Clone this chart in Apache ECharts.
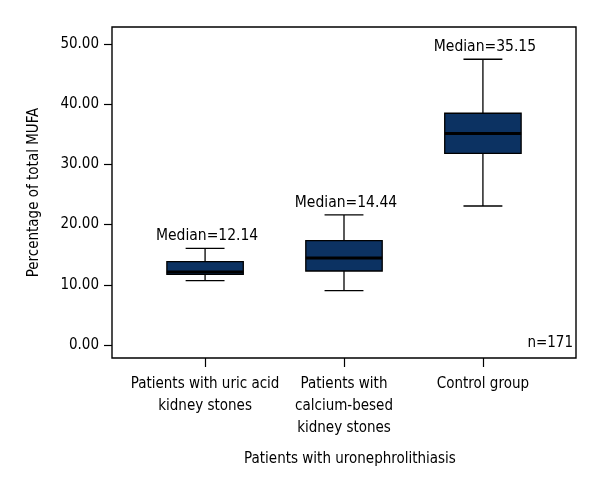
<!DOCTYPE html>
<html>
<head>
<meta charset="utf-8">
<script src="https://cdn.jsdelivr.net/npm/echarts@6/dist/echarts.min.js"></script>
<style>
html,body{margin:0;padding:0;background:#fff;}
#chart{width:600px;height:500px;}
</style>
</head>
<body>
<div id="chart"></div>
<script>
// ---- data ----
const categories = ['Patients with uric acid\nkidney stones', 'Patients with\ncalcium-besed\nkidney stones', 'Control group'];
const categoryPositions = [0, 1, 2];
const whiskerLow = [10.68, 9.02, 23.09];
const q1Values = [11.74, 12.29, 31.84];
const medians = [12.14, 14.44, 35.15];
const q3Values = [13.84, 17.33, 38.49];
const whiskerHigh = [16.06, 21.6, 47.46];
const yTicks = [0, 10, 20, 30, 40, 50];
const yAxisTitle = 'Percentage of total MUFA';
const xAxisTitle = 'Patients with uronephrolithiasis';
const sampleNote = 'n=171';

const FONT = "'Liberation Sans Narrow', 'DejaVu Sans Condensed', 'Arial Narrow', sans-serif";
const boxData = categories.map((c, i) => [categoryPositions[i], whiskerLow[i], q1Values[i], medians[i], q3Values[i], whiskerHigh[i]]);

const chart = echarts.init(document.getElementById('chart'), null, {renderer: 'canvas'});
chart.setOption({
  animation: false,
  backgroundColor: '#fff',
  textStyle: {fontFamily: FONT},
  grid: {left: 112, right: 24, top: 27, bottom: 142, show: true, borderColor: '#000', borderWidth: 1.4, backgroundColor: 'transparent'},
  xAxis: {
    type: 'value', min: -0.67, max: 2.67,
    axisLine: {show: false, onZero: false},
    axisTick: {show: true, customValues: categoryPositions, length: 9, lineStyle: {color: '#000', width: 1.2}},
    splitLine: {show: false},
    axisLabel: {
      customValues: categoryPositions, color: '#000', fontSize: 15, fontFamily: FONT, margin: 15, lineHeight: 22,
      formatter: v => categories[Math.round(v)]
    },
    name: xAxisTitle, nameLocation: 'middle', nameGap: 94,
    nameTextStyle: {color: '#000', fontSize: 15, fontFamily: FONT, padding: [0, 0, 0, 12]}
  },
  yAxis: {
    type: 'value', min: -2.16, max: 52.82,
    axisLine: {show: false, onZero: false},
    axisTick: {show: true, customValues: yTicks, length: 8, lineStyle: {color: '#000', width: 1.2}},
    splitLine: {show: false},
    axisLabel: {customValues: yTicks, color: '#000', fontSize: 15, fontFamily: FONT, margin: 13, formatter: v => v.toFixed(2)},
    name: yAxisTitle, nameLocation: 'middle', nameRotate: 90, nameGap: 70,
    nameTextStyle: {color: '#000', fontSize: 15, fontFamily: FONT}
  },
  graphic: [
    {type: 'text', right: 27, top: 336, style: {text: sampleNote, fill: '#000', font: '15px ' + FONT}}
  ],
  series: [{
    type: 'custom',
    encode: {x: 0, y: [1, 2, 3, 4, 5]},
    data: boxData,
    renderItem: function (params, api) {
      const x = api.value(0);
      const lo = api.coord([x, api.value(1)]);
      const q1 = api.coord([x, api.value(2)]);
      const md = api.coord([x, api.value(3)]);
      const q3 = api.coord([x, api.value(4)]);
      const hi = api.coord([x, api.value(5)]);
      const band = api.size([1, 0])[0];
      const bw = band * 0.55, cw = band * 0.28;
      const cx = md[0];
      const ls = {stroke: '#000', lineWidth: 1.3};
      return {
        type: 'group',
        children: [
          {type: 'line', shape: {x1: cx, y1: hi[1], x2: cx, y2: q3[1]}, style: ls},
          {type: 'line', shape: {x1: cx, y1: q1[1], x2: cx, y2: lo[1]}, style: ls},
          {type: 'line', shape: {x1: cx - cw / 2, y1: hi[1], x2: cx + cw / 2, y2: hi[1]}, style: ls},
          {type: 'line', shape: {x1: cx - cw / 2, y1: lo[1], x2: cx + cw / 2, y2: lo[1]}, style: ls},
          {type: 'rect', shape: {x: cx - bw / 2, y: q3[1], width: bw, height: q1[1] - q3[1]},
            style: {fill: '#0c3262', stroke: '#000', lineWidth: 1.3}},
          {type: 'line', shape: {x1: cx - bw / 2, y1: md[1], x2: cx + bw / 2, y2: md[1]}, style: {stroke: '#000', lineWidth: 3}},
          {type: 'text', x: cx + 2, y: hi[1] - 4,
            style: {text: 'Median=' + api.value(3).toFixed(2), fill: '#000', font: '15.5px ' + FONT, align: 'center', verticalAlign: 'bottom'}}
        ]
      };
    }
  }]
});
</script>
</body>
</html>
